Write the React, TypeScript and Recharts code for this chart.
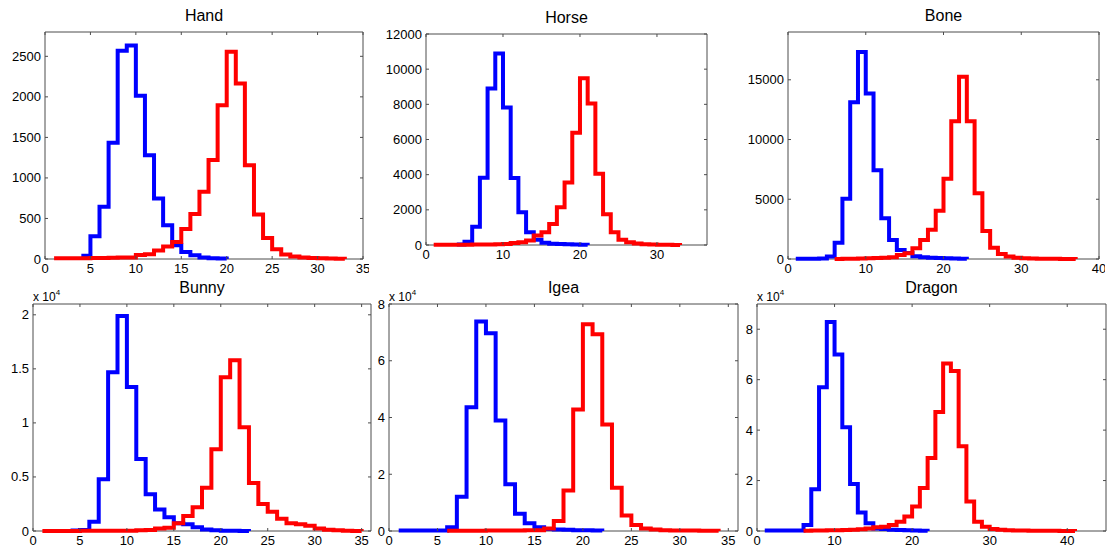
import { LineChart, Line, XAxis, YAxis, ReferenceArea } from "recharts";

const FONT = '"Liberation Sans", Arial, Helvetica, sans-serif';
const BLUE = "#0000ff";
const RED = "#ff0000";
const AXIS = "#4d4d4d";

// histogram counts per integer bin; *_START is the x of the first bin
const HAND_BLUE_START = 4;
const HAND_BLUE = [40, 280, 645, 1435, 2570, 2635, 2015, 1280, 745, 415, 170, 85, 45, 20, 10, 5, 0];
const HAND_RED_START = 1;
const HAND_RED = [
  8, 8, 10, 10, 12, 12, 15, 18, 20, 50, 60, 105, 155, 210, 370, 555, 830, 1220, 1895, 2555, 2165, 1155, 550,
  260, 120, 55, 30, 20, 12, 8, 5, 3, 0,
];

const HORSE_BLUE_START = 4;
const HORSE_BLUE = [30, 190, 1040, 3830, 8900, 10890, 7820, 3810, 1860, 730, 300, 130, 70, 50, 40, 30, 20, 0];
const HORSE_RED_START = 1;
const HORSE_RED = [
  10, 10, 15, 15, 20, 25, 30, 35, 40, 60, 110, 160, 260, 540, 730, 1200, 2150, 3550, 6390, 9480, 8050, 4050,
  1750, 730, 300, 150, 80, 40, 25, 15, 10, 5, 0,
];

const BONE_BLUE_START = 1;
const BONE_BLUE = [
  30, 30, 30, 40, 200, 1370, 5040, 13130, 17330, 13860, 7420, 3420, 1600, 760, 500, 220, 150, 110, 80, 60, 50,
  30, 0,
];
const BONE_RED_START = 6;
const BONE_RED = [
  10, 20, 30, 40, 60, 80, 100, 150, 340, 480, 900, 1600, 2440, 4030, 6720, 11530, 15260, 11530, 5510, 2350, 950,
  420, 200, 110, 60, 40, 30, 20, 15, 10, 5, 0,
];

const BUNNY_BLUE_START = 4;
const BUNNY_BLUE = [
  40, 100, 860, 4780, 14690, 19880, 13330, 6670, 3400, 2000, 1270, 710, 620, 340, 150, 60, 30, 20, 10, 0,
];
const BUNNY_RED_START = 1;
const BUNNY_RED = [
  10, 10, 10, 10, 15, 15, 20, 20, 25, 30, 60, 100, 220, 310, 710, 1390, 2190, 4010, 7560, 14230, 15800, 9600,
  4440, 2500, 1790, 1140, 710, 620, 490, 220, 120, 60, 30, 10, 0,
];

const IGEA_BLUE_START = 1;
const IGEA_BLUE = [
  200, 200, 200, 200, 200, 1300, 12100, 43600, 73800, 69700, 38900, 16500, 6100, 2700, 1300, 700, 500, 400, 300,
  300, 200, 0,
];
const IGEA_RED_START = 6;
const IGEA_RED = [
  100, 100, 100, 100, 150, 150, 200, 200, 250, 300, 900, 3500, 14300, 42800, 72900, 69300, 37500, 15200, 5500,
  2100, 900, 500, 300, 200, 200, 150, 100, 50, 0,
];

const DRAGON_BLUE_START = 1;
const DRAGON_BLUE = [
  200, 200, 200, 200, 200, 2400, 16600, 57000, 82900, 70000, 41100, 18600, 7300, 3100, 1000, 800, 500, 400, 300,
  200, 100, 0,
];
const DRAGON_RED_START = 6;
const DRAGON_RED = [
  100, 150, 200, 250, 300, 400, 500, 700, 1000, 1500, 1700, 2400, 3700, 5700, 9700, 17000, 28900, 47200, 66400,
  63400, 33600, 11700, 3700, 1700, 800, 500, 300, 200, 150, 100, 100, 80, 60, 40, 20, 0,
];

const X_TICKS_5 = [0, 5, 10, 15, 20, 25, 30, 35];
const X_TICKS_10 = [0, 10, 20, 30];
const X_TICKS_10_40 = [0, 10, 20, 30, 40];
const HAND_Y_TICKS = [0, 500, 1000, 1500, 2000, 2500];
const HORSE_Y_TICKS = [0, 2000, 4000, 6000, 8000, 10000, 12000];
const BONE_Y_TICKS = [0, 5000, 10000, 15000];
const BUNNY_Y_TICKS = [0, 5000, 10000, 15000, 20000];
const E4_Y_TICKS = [0, 20000, 40000, 60000, 80000];

const ML = 46;
const MT = 6;
const MR = 6;
const MB = 22;
const TICK = 3;

const toSteps = (start: number, values: number[]) => values.map((y, i) => ({ x: start + i, y }));
const e4 = (v: number) => String(v / 10000);

type PanelProps = {
  title: string;
  left: number;
  top: number;
  width: number;
  height: number;
  xMax: number;
  xTicks: number[];
  yMax: number;
  yTicks: number[];
  yFormat?: (v: number) => string;
  exponent?: boolean;
  blueStart: number;
  blue: number[];
  redStart: number;
  red: number[];
};

function Panel(p: PanelProps) {
  const w = p.width + ML + MR;
  const h = p.height + MT + MB;
  const bottom = MT + p.height;
  const right = ML + p.width;
  const fmt = p.yFormat ?? ((v: number) => String(v));

  return (
    <div style={{ position: "absolute", left: p.left - ML, top: p.top - MT, width: w, height: h }}>
      <LineChart width={w} height={h} margin={{ top: MT, right: MR, bottom: 0, left: 0 }}>
        <XAxis
          type="number"
          dataKey="x"
          domain={[0, p.xMax]}
          ticks={p.xTicks}
          interval={0}
          height={MB}
          axisLine={false}
          tickLine={false}
          tickSize={0}
          tick={(t: any) => (
            <g>
              <line x1={t.x} x2={t.x} y1={bottom} y2={bottom - TICK} stroke={AXIS} />
              <line x1={t.x} x2={t.x} y1={MT} y2={MT + TICK} stroke={AXIS} />
              <text x={t.x} y={bottom + 14} textAnchor="middle" fontSize={13} fontFamily={FONT} fill="#000">
                {t.payload.value}
              </text>
            </g>
          )}
        />
        <YAxis
          type="number"
          domain={[0, p.yMax]}
          ticks={p.yTicks}
          interval={0}
          width={ML}
          axisLine={false}
          tickLine={false}
          tickSize={0}
          tick={(t: any) => (
            <g>
              <line x1={ML} x2={ML + TICK} y1={t.y} y2={t.y} stroke={AXIS} />
              <line x1={right} x2={right - TICK} y1={t.y} y2={t.y} stroke={AXIS} />
              <text x={ML - 4} y={t.y + 4.5} textAnchor="end" fontSize={13} fontFamily={FONT} fill="#000">
                {fmt(t.payload.value)}
              </text>
            </g>
          )}
        />
        <ReferenceArea x1={0} x2={p.xMax} y1={0} y2={p.yMax} fill="none" stroke={AXIS} strokeWidth={1} />
        <Line
          data={toSteps(p.blueStart, p.blue)}
          dataKey="y"
          type="stepAfter"
          stroke={BLUE}
          strokeWidth={4}
          dot={false}
          activeDot={false}
          isAnimationActive={false}
        />
        <Line
          data={toSteps(p.redStart, p.red)}
          dataKey="y"
          type="stepAfter"
          stroke={RED}
          strokeWidth={4}
          dot={false}
          activeDot={false}
          isAnimationActive={false}
        />
      </LineChart>
    </div>
  );
}

const PANELS: PanelProps[] = [
  { title: "Hand", left: 45, top: 32, width: 318, height: 227, xMax: 35, xTicks: X_TICKS_5, yMax: 2800, yTicks: HAND_Y_TICKS, blueStart: HAND_BLUE_START, blue: HAND_BLUE, redStart: HAND_RED_START, red: HAND_RED },
  { title: "Horse", left: 426, top: 34, width: 281, height: 211, xMax: 36.5, xTicks: X_TICKS_10, yMax: 12000, yTicks: HORSE_Y_TICKS, blueStart: HORSE_BLUE_START, blue: HORSE_BLUE, redStart: HORSE_RED_START, red: HORSE_RED },
  { title: "Bone", left: 788, top: 32, width: 311, height: 227, xMax: 40, xTicks: X_TICKS_10_40, yMax: 19000, yTicks: BONE_Y_TICKS, blueStart: BONE_BLUE_START, blue: BONE_BLUE, redStart: BONE_RED_START, red: BONE_RED },
  { title: "Bunny", left: 33, top: 304, width: 338, height: 227, xMax: 36, xTicks: X_TICKS_5, yMax: 21000, yTicks: BUNNY_Y_TICKS, yFormat: e4, exponent: true, blueStart: BUNNY_BLUE_START, blue: BUNNY_BLUE, redStart: BUNNY_RED_START, red: BUNNY_RED },
  { title: "Igea", left: 389, top: 304, width: 349, height: 227, xMax: 36, xTicks: X_TICKS_5, yMax: 80000, yTicks: E4_Y_TICKS, yFormat: e4, exponent: true, blueStart: IGEA_BLUE_START, blue: IGEA_BLUE, redStart: IGEA_RED_START, red: IGEA_RED },
  { title: "Dragon", left: 757, top: 304, width: 349, height: 227, xMax: 45, xTicks: X_TICKS_10_40, yMax: 90000, yTicks: E4_Y_TICKS, yFormat: e4, exponent: true, blueStart: DRAGON_BLUE_START, blue: DRAGON_BLUE, redStart: DRAGON_RED_START, red: DRAGON_RED },
];

export default function App() {
  return (
    <div style={{ position: "absolute", left: 0, top: 0, width: 1110, height: 557, background: "#fff", overflow: "hidden" }}>
      {PANELS.map((p) => (
        <Panel key={p.title} {...p} />
      ))}
      <svg width={1110} height={557} style={{ position: "absolute", left: 0, top: 0, pointerEvents: "none" }}>
        {PANELS.map((p) => (
          <g key={p.title}>
            <text
              x={p.left + p.width / 2}
              y={p.top - 11.5}
              textAnchor="middle"
              fontSize={16}
              fontFamily={FONT}
              fill="#000"
            >
              {p.title}
            </text>
            {p.exponent && (
              <text x={p.left} y={p.top - 3.5} fontSize={12} fontFamily={FONT} fill="#000">
                x 10
                <tspan fontSize={8} dy={-6}>
                  4
                </tspan>
              </text>
            )}
          </g>
        ))}
      </svg>
    </div>
  );
}
